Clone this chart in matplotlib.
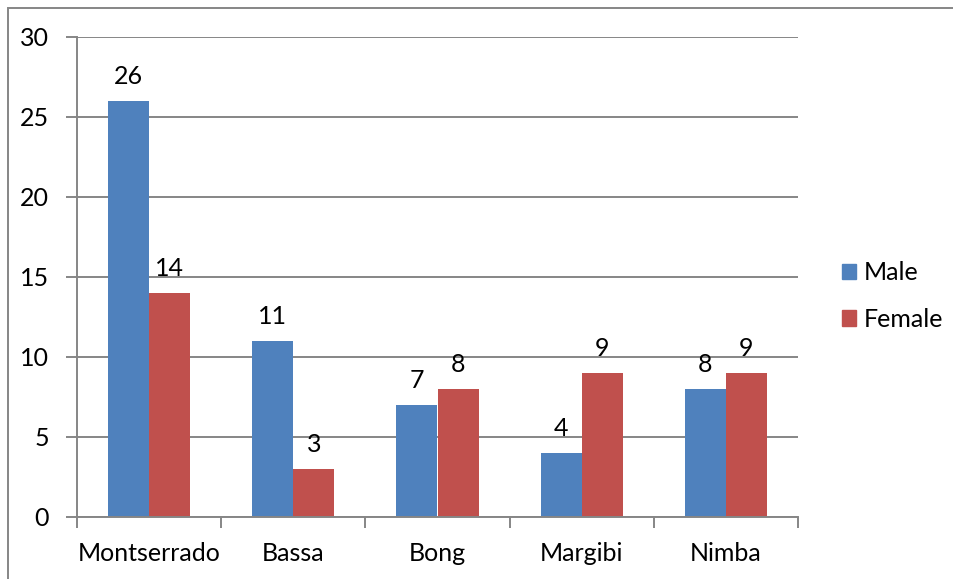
import numpy as np
import matplotlib.pyplot as plt
from matplotlib.patches import Rectangle, Patch

counties = ["Montserrado", "Bassa", "Bong", "Margibi", "Nimba"]
male = [26, 11, 7, 4, 8]
female = [14, 3, 8, 9, 9]

plt.rcParams["font.family"] = ["Lato", "DejaVu Sans"]
grey = "#868686"
fs = 18

fig = plt.figure(figsize=(9.54, 5.79), dpi=100)
ax = fig.add_axes([77 / 954, 1 - 517 / 579, 721 / 954, 480 / 579])

x = np.arange(len(counties))
w = 0.285
b1 = ax.bar(x - w / 2, male, w, color="#4F81BD", label="Male")
b2 = ax.bar(x + w / 2, female, w, color="#C0504D", label="Female")
for bars in (b1, b2):
    ax.bar_label(bars, padding=9, fontsize=fs)

ax.set_xlim(-0.5, len(counties) - 0.5)
ax.set_ylim(0, 30)
ax.set_yticks(range(0, 31, 5))
ax.yaxis.grid(True, color=grey, linewidth=1.4)
ax.set_axisbelow(True)

ax.set_xticks(x)
ax.set_xticklabels(counties)
ax.set_xticks(np.arange(-0.5, len(counties)), minor=True)
ax.tick_params(axis="x", which="major", length=0, pad=18, labelsize=fs)
ax.tick_params(axis="x", which="minor", length=8, width=1.4, color=grey)
ax.tick_params(axis="y", length=8, width=1.4, color=grey, pad=12, labelsize=fs)

for s in ["top", "right"]:
    ax.spines[s].set_visible(False)
for s in ["left", "bottom"]:
    ax.spines[s].set_color(grey)
    ax.spines[s].set_linewidth(1.4)

fig.legend(handles=[Patch(color="#4F81BD", label="Male"), Patch(color="#C0504D", label="Female")],
           loc="center left", bbox_to_anchor=(830 / 954, 1 - 296 / 579), frameon=False, borderpad=0,
           fontsize=fs, handlelength=0.56, handleheight=0.56, handletextpad=0.3, labelspacing=0.95)

fig.patches.append(Rectangle((8 / 954, -0.1), 1.2, 1 - 8 / 579 + 0.1, transform=fig.transFigure,
                             fill=False, edgecolor=grey, linewidth=1.4))

fig.savefig("out.png", dpi=100)
